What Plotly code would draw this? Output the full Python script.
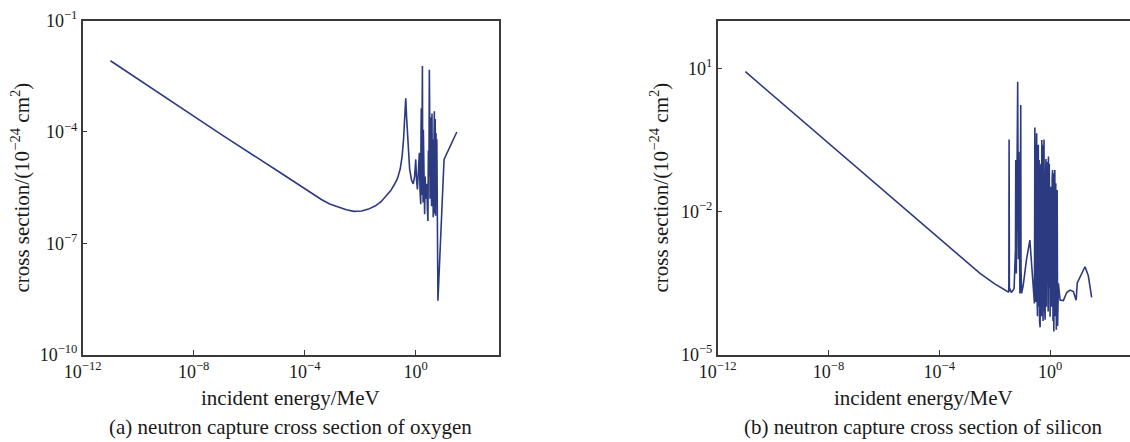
import numpy as np
import plotly.graph_objects as go

# ---- data (log10 of values) ----
oxygen_log_energy = [
    -11.0, -9.0, -7.0, -5.0, -4.5, -4.0, -3.7, -3.4, -3.1, -2.8, -2.5, -2.23, -1.95, -1.7,
    -1.45, -1.25, -1.05, -0.9, -0.78, -0.66, -0.56, -0.49, -0.44, -0.40, -0.36, -0.33, -0.28,
    -0.22, -0.15, -0.09, -0.04,
    0.0, 0.03, 0.06, 0.10, 0.13, 0.155, 0.18, 0.19, 0.20, 0.215, 0.23, 0.24, 0.25, 0.265,
    0.275, 0.29, 0.30, 0.32, 0.34, 0.36, 0.38, 0.40, 0.42, 0.44, 0.455, 0.465, 0.475, 0.49,
    0.50, 0.515, 0.53, 0.545, 0.555, 0.57, 0.585, 0.60, 0.615, 0.63, 0.65, 0.67, 0.685, 0.70,
    0.715, 0.73, 0.745, 0.76, 0.775, 0.80, 1.02, 1.26, 1.48,
]
oxygen_log_sigma = [
    -2.08, -3.08, -4.07, -5.04, -5.29, -5.53, -5.68, -5.82, -5.94, -6.03, -6.1, -6.14, -6.13, -6.08,
    -5.99, -5.88, -5.72, -5.58, -5.43, -5.26, -5.0, -4.65, -4.2, -3.75, -3.09, -3.6, -4.4,
    -5.0, -5.3, -5.40, -5.2,
    -4.74, -5.3, -5.55, -5.0, -4.56, -5.6, -5.95, -4.0, -3.36, -5.7, -4.5, -2.22, -4.5, -5.9,
    -3.94, -5.6, -4.3, -6.22, -5.2, -5.8, -5.55, -5.4, -6.1, -6.40, -4.5, -2.86, -5.2, -2.32,
    -3.2, -5.8, -3.6, -5.9, -4.4, -6.0, -3.5, -5.9, -4.2, -6.3, -3.6, -3.44, -6.2, -3.65,
    -6.26, -4.03, -5.6, -4.2, -6.2, -8.55, -4.74, -4.34, -4.0,
]

silicon_log_energy = [
    -11.0, -9.0, -7.0, -5.0, -3.0, -2.53, -2.0, -1.7, -1.51, -1.49, -1.48, -1.47, -1.40, -1.30,
    -1.25, -1.24, -1.22, -1.20, -1.17, -1.145, -1.13, -1.09, -1.06, -1.05, -1.03, -0.97, -0.85,
    -0.73, -0.66, -0.60, -0.565, -0.55, -0.535, -0.52, -0.50, -0.485, -0.47, -0.455, -0.44,
    -0.425, -0.41, -0.395, -0.38, -0.36, -0.345, -0.33, -0.315, -0.30, -0.285, -0.27, -0.255,
    -0.235, -0.22, -0.205, -0.18, -0.165, -0.15, -0.135, -0.12, -0.10, -0.085, -0.07, -0.06,
    -0.045, -0.03, -0.015, 0.0, 0.015, 0.03, 0.045, 0.06, 0.075, 0.09, 0.105, 0.12, 0.135,
    0.15, 0.17, 0.18, 0.19, 0.205, 0.225, 0.24, 0.255, 0.27, 0.30,
    0.36, 0.48, 0.60, 0.72, 0.84, 0.94, 0.98, 1.08, 1.26, 1.38, 1.50,
]
silicon_log_sigma = [
    0.93, -0.07, -1.07, -2.07, -3.07, -3.30, -3.52, -3.63, -3.69, -3.68, -0.49, -3.60, -3.70, -3.62,
    -2.8, -0.92, -3.3, -1.2, 0.72, -3.0, -0.75, -3.72, 0.23, -3.2, -3.72, -3.55, -3.0,
    -2.60, -3.1, -3.6, -3.93, -0.24, -3.0, -3.9, -1.2, -0.36, -3.8, -4.2, -1.0,
    -0.6, -4.0, -0.92, -4.3, -4.43, -1.2, -1.0, -4.2, -0.50, -4.0, -0.6, -4.3,
    -1.5, -0.49, -3.9, -4.27, -1.4, -0.9, -4.0, -0.96, -3.5, -1.5, -4.1, -0.85,
    -3.6, -1.0, -3.9, -4.21, -1.7, -1.48, -4.0, -3.8, -1.3, -1.13, -4.3, -1.2, -4.52,
    -2.0, -1.13, -4.2, -3.9, -1.41, -4.48, -2.3, -1.55, -4.4, -3.51,
    -3.86, -3.87, -3.70, -3.65, -3.68, -3.86, -3.5, -3.37, -3.16, -3.35, -3.80,
]

x_tick_exps = [-12, -8, -4, 0]
oxygen_y_tick_exps = [-1, -4, -7, -10]
silicon_y_tick_exps = [1, -2, -5]

x_title = "incident energy/MeV"
y_title = "cross section/(10<sup>\u221224</sup> cm<sup>2</sup>)"
caption_a = "(a) neutron capture cross section of oxygen"
caption_b = "(b) neutron capture cross section of silicon"

# ---- styling ----
LINE = "#2c3a82"
AX = "#3a3a3a"
TXT = "#1a1a1a"
FONT = "Liberation Serif"
W, H = 1130, 442


def lab(e):
    s = str(e).replace("-", "\u2212")
    return f"10<sup>{s}</sup>"


fig = go.Figure()
fig.add_trace(go.Scatter(
    x=10 ** np.array(oxygen_log_energy), y=10 ** np.array(oxygen_log_sigma),
    mode="lines", line=dict(color=LINE, width=1.6), xaxis="x", yaxis="y",
    showlegend=False, hoverinfo="skip"))
fig.add_trace(go.Scatter(
    x=10 ** np.array(silicon_log_energy), y=10 ** np.array(silicon_log_sigma),
    mode="lines", line=dict(color=LINE, width=1.6), xaxis="x2", yaxis="y2",
    showlegend=False, hoverinfo="skip"))

left_x0, left_x1 = 82.7, 499.0
right_x0, right_x1 = 717.7, 1130.0
top_px, bot_px = 20.7, 354.5
ydom = [1 - bot_px / H, 1 - top_px / H]

common_ax = dict(
    type="log", showgrid=False, zeroline=False, showline=True, linecolor=AX, linewidth=1.5,
    ticks="inside", ticklen=5, tickwidth=1.2, tickcolor=AX, automargin=False,
    tickfont=dict(family=FONT, size=18, color=TXT),
)

fig.update_layout(
    width=W, height=H, margin=dict(l=0, r=0, t=0, b=0, autoexpand=False),
    paper_bgcolor="white", plot_bgcolor="white",
    font=dict(family=FONT, color=TXT),
    xaxis=dict(common_ax, domain=[left_x0 / W, left_x1 / W], range=[-12, 3],
               tickvals=[10 ** e for e in x_tick_exps], ticktext=[lab(e) for e in x_tick_exps],
               mirror=True, anchor="y"),
    yaxis=dict(common_ax, domain=ydom, range=[-10, -1],
               tickvals=[10 ** e for e in oxygen_y_tick_exps],
               ticktext=[lab(e) for e in oxygen_y_tick_exps], mirror=True, anchor="x"),
    xaxis2=dict(common_ax, domain=[right_x0 / W, right_x1 / W],
                range=[-12, -12 + (right_x1 - right_x0) / 27.7],
                tickvals=[10 ** e for e in x_tick_exps], ticktext=[lab(e) for e in x_tick_exps],
                mirror=True, anchor="y2"),
    yaxis2=dict(common_ax, domain=ydom, range=[-5, 2],
                tickvals=[10 ** e for e in silicon_y_tick_exps],
                ticktext=[lab(e) for e in silicon_y_tick_exps], mirror=False, anchor="x2"),
)

annots = [
    dict(text=x_title, x=(left_x0 + left_x1) / 2 / W, y=1 - 398 / H),
    dict(text=caption_a, x=(left_x0 + left_x1) / 2 / W, y=1 - 427 / H),
    dict(text=x_title, x=(right_x0 + right_x1) / 2 / W, y=1 - 398 / H),
    dict(text=caption_b, x=(right_x0 + right_x1) / 2 / W, y=1 - 427 / H),
    dict(text=y_title, x=21 / W, y=1 - 187.6 / H, textangle=-90),
    dict(text=y_title, x=660 / W, y=1 - 187.6 / H, textangle=-90),
]
for a in annots:
    fig.add_annotation(xref="paper", yref="paper", showarrow=False,
                       xanchor="center", yanchor="middle",
                       font=dict(family=FONT, size=21, color=TXT), **a)

fig.write_html(
    "out.html",
    config={"displayModeBar": False},
    post_script="document.body.style.margin='0px';document.body.style.overflow='hidden';",
)
